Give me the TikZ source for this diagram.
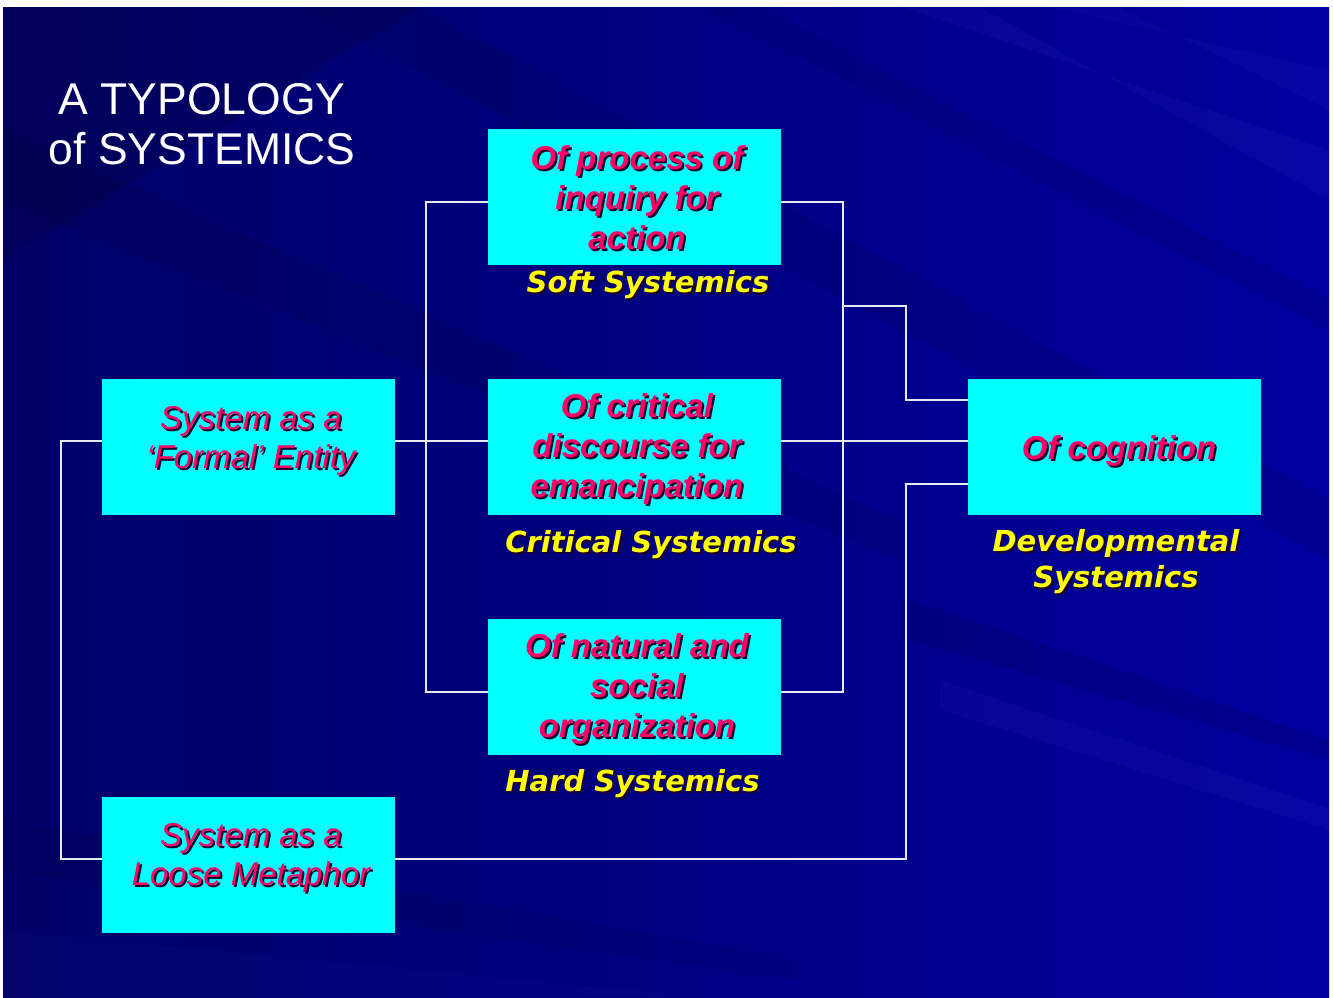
\documentclass[tikz,border=0pt]{standalone}
\usepackage{fontspec}
\setmainfont{Liberation Sans}
\newfontfamily\dvfont{DejaVu Sans}
\definecolor{cyanbox}{RGB}{0,255,255}
\definecolor{redtxt}{RGB}{255,0,102}
\definecolor{yeltxt}{RGB}{255,255,0}
\definecolor{shadowcol}{RGB}{30,0,40}
\definecolor{bgdark}{RGB}{0,0,102}
\definecolor{bgmid}{RGB}{0,0,130}
\definecolor{bglight}{RGB}{0,0,160}
\definecolor{linecol}{RGB}{232,232,242}
\newcommand{\shadowed}[1]{\leavevmode\rlap{\kern2pt\raisebox{-2pt}{\textcolor{shadowcol}{#1}}}#1}
\tikzset{
  box/.style={fill=cyanbox, draw=none, minimum width=293pt, minimum height=136pt, inner sep=0pt},
  boxbi/.style={text=redtxt, align=center, inner sep=0pt, font=\fontsize{33}{40}\selectfont\bfseries\itshape},
  boxit/.style={text=redtxt, align=center, inner sep=0pt, font=\fontsize{33}{39}\selectfont\itshape},
  ylab/.style={text=yeltxt, anchor=base, inner sep=0pt, font=\dvfont\fontsize{29}{36}\selectfont\bfseries\itshape},
  titletxt/.style={text=white, anchor=base, inner sep=0pt, font=\fontsize{44.5}{50}\selectfont},
  conn/.style={draw=linecol, line width=2pt}
}
\begin{document}
\begin{tikzpicture}[x=1pt,y=-1pt]
\fill[white] (0,0) rectangle (1333,997);
\useasboundingbox (0,0) rectangle (1333,997);
% background
\shade[left color=bgdark, right color=bglight, middle color=bgmid] (3,7) rectangle (1329,997);
\begin{scope}
\clip (3,7) rectangle (1329,997);
\fill[black, opacity=0.12] (3,7) -- (420,7) -- (3,260) -- cycle;
\fill[black, opacity=0.08] (3,130) -- (3,200) -- (900,560) -- (900,520) -- cycle;
\fill[black, opacity=0.08] (300,7) -- (420,7) -- (1329,500) -- (1329,560) -- cycle;
\fill[black, opacity=0.08] (700,7) -- (760,7) -- (1329,300) -- (1329,330) -- cycle;
\fill[black, opacity=0.10] (910,600) -- (910,640) -- (1329,760) -- (1329,740) -- cycle;
\fill[black, opacity=0.06] (3,820) -- (3,870) -- (800,980) -- (800,960) -- cycle;
\fill[blue!60!white, opacity=0.06] (940,680) -- (940,710) -- (1329,830) -- (1329,808) -- cycle;
\fill[blue!60!white, opacity=0.06] (900,7) -- (980,7) -- (1329,200) -- (1329,150) -- cycle;
\fill[blue!60!white, opacity=0.05] (1050,7) -- (1120,7) -- (1329,110) -- (1329,70) -- cycle;
\fill[blue!60!white, opacity=0.03] (3,1000) -- (3,930) -- (700,997) -- cycle;
\end{scope}
% title
\node[titletxt] (title1) at (202,114) {A TYPOLOGY};
\node[titletxt] (title2) at (202,164) {of SYSTEMICS};
% boxes
\node[box] (soft) at (634.5,197) {};
\node[box] (crit) at (634.5,447) {};
\node[box] (hard) at (634.5,687) {};
\node[box] (formal) at (248.5,447) {};
\node[box] (loose) at (248.5,865) {};
\node[box] (cog) at (1114.5,447) {};
% junction coordinates
\coordinate (L1) at (61,441);
\coordinate (L2) at (61,859);
\coordinate (M) at (426,441);
\coordinate (V1t) at (426,202);
\coordinate (V1b) at (426,692);
\coordinate (V2t) at (843,202);
\coordinate (V2b) at (843,692);
\coordinate (V2m) at (843,306);
\coordinate (R1) at (906,306);
\coordinate (R2) at (906,400);
\coordinate (R3) at (906,484);
\coordinate (R4) at (906,859);
% connectors
\draw[conn] (formal.west |- L1) -- (L1) -- (L2) -- (loose.west |- L2);
\draw[conn] (formal.east |- M) -- (crit.west |- M);
\draw[conn] (soft.west |- V1t) -- (V1t) -- (V1b) -- (hard.west |- V1b);
\draw[conn] (soft.east |- V2t) -- (V2t) -- (V2b) -- (hard.east |- V2b);
\draw[conn] (crit.east |- M) -- (cog.west |- M);
\draw[conn] (V2m) -- (R1) -- (R2) -- (cog.west |- R2);
\draw[conn] (cog.west |- R3) -- (R3) -- (R4) -- (loose.east |- R4);
% box texts
\node[boxbi] (softtxt) at (637,199) {\shadowed{Of process of}\\\shadowed{inquiry for}\\\shadowed{action}};
\node[boxbi] (crittxt) at (637,450) {\shadowed{Of critical}\\\shadowed{discourse for}\\\shadowed{emancipation}};
\node[boxbi] (hardtxt) at (637,690) {\shadowed{Of natural and}\\\shadowed{social}\\\shadowed{organization}};
\node[boxbi] (cogtxt) at (1119,452) {\shadowed{Of cognition}};
\node[boxit] (formaltxt) at (251,442) {\shadowed{System as a}\\\shadowed{‘Formal’ Entity}};
\node[boxit] (loosetxt) at (251,859) {\shadowed{System as a}\\\shadowed{Loose Metaphor}};
% yellow labels
\node[ylab] (softlab) at (648,292) {\shadowed{Soft Systemics}};
\node[ylab] (critlab) at (651,552) {\shadowed{Critical Systemics}};
\node[ylab] (hardlab) at (632.5,791) {\shadowed{Hard Systemics}};
\node[ylab] (devlab1) at (1116,551) {\shadowed{Developmental}};
\node[ylab] (devlab2) at (1116,587) {\shadowed{Systemics}};
\end{tikzpicture}
\end{document}
